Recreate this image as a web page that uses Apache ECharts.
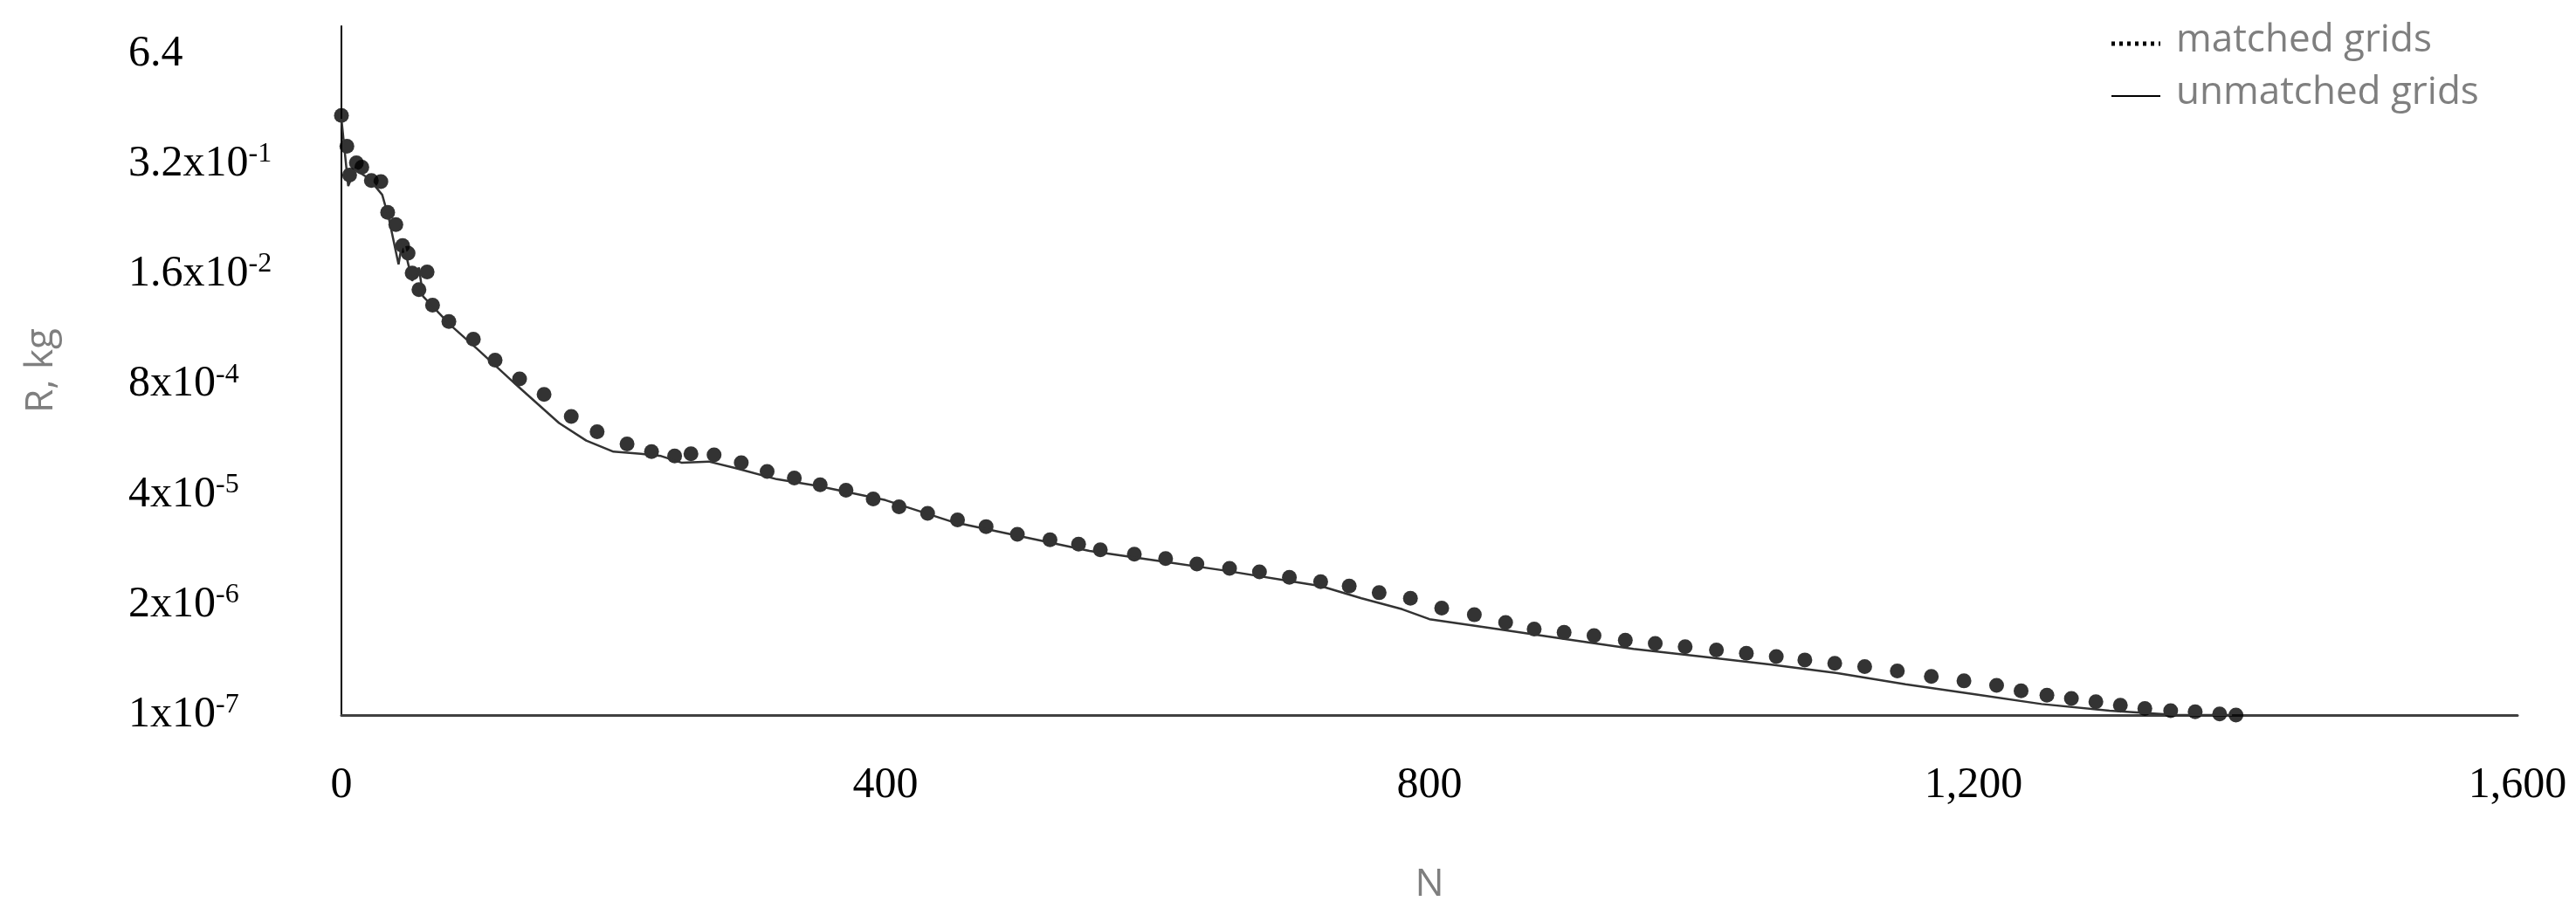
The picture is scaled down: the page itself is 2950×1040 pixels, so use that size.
<!DOCTYPE html>
<html>
<head>
<meta charset="utf-8">
<script src="https://cdn.jsdelivr.net/npm/echarts@6/dist/echarts.min.js"></script>
<style>html,body{margin:0;background:#fff}#chart{width:2950px;height:1040px}</style>
</head>
<body>
<div id="chart"></div>
<script>
// y values are read as steps on the axis: each step is a factor of 20 (0 = 1x10^-7, 6 = 6.4)
const yTickLabels = ["1x10{s|-7}","2x10{s|-6}","4x10{s|-5}","8x10{s|-4}","1.6x10{s|-2}","3.2x10{s|-1}","6.4"]

const matchedN = [0,4,6,11,15,22,29,34,40,45,49,52,57,63,67,79,97,113,131,149,169,188,210,228,245,257,274,294,313,333,352,371,391,410,431,453,474,497,521,542,558,583,606,629,653,675,697,720,741,763,786,809,833,856,877,899,921,944,966,988,1011,1033,1055,1076,1098,1120,1144,1169,1193,1217,1235,1254,1272,1290,1308,1326,1345,1363,1381,1393]
const matchedR = [5.44,5.16,4.90,5.01,4.97,4.85,4.84,4.56,4.45,4.26,4.19,4.01,3.86,4.02,3.72,3.57,3.41,3.22,3.05,2.91,2.71,2.57,2.46,2.39,2.35,2.37,2.36,2.29,2.21,2.15,2.09,2.04,1.96,1.89,1.83,1.77,1.71,1.64,1.59,1.55,1.50,1.46,1.42,1.37,1.33,1.30,1.25,1.21,1.17,1.11,1.06,0.97,0.91,0.84,0.78,0.75,0.72,0.68,0.65,0.62,0.59,0.56,0.53,0.50,0.47,0.44,0.40,0.35,0.31,0.27,0.22,0.18,0.15,0.12,0.09,0.06,0.04,0.03,0.01,0]

const unmatchedN = [0,5,10,20,30,35,42,45,52,57,60,80,100,130,160,180,200,220,235,250,270,290,320,350,400,450,500,550,600,650,700,720,750,780,800,850,900,950,1000,1050,1100,1150,1200,1250,1300,1350,1390]
const unmatchedR = [5.41,4.8,4.95,4.87,4.72,4.5,4.09,4.31,3.94,4.06,3.8,3.54,3.32,2.98,2.65,2.49,2.39,2.37,2.35,2.29,2.3,2.24,2.14,2.08,1.95,1.75,1.62,1.49,1.40,1.31,1.21,1.17,1.06,0.96,0.87,0.78,0.69,0.60,0.53,0.46,0.38,0.28,0.19,0.10,0.04,0,0]

const chart = echarts.init(document.getElementById("chart"))
const serif = "Liberation Serif"
const sans = "Open Sans"

chart.setOption({
	animation: false,
	grid: {left: 391, right: 67, top: 30, bottom: 218},
	xAxis: {
		type: "value", min: 0, max: 1600, interval: 400,
		name: "N", nameLocation: "middle", nameGap: 172,
		nameTextStyle: {fontFamily: sans, fontSize: 44, color: "#7f7f7f"},
		axisLine: {lineStyle: {color: "#404040", width: 3}},
		axisTick: {show: false},
		splitLine: {show: false},
		axisLabel: {fontFamily: serif, fontSize: 50, color: "#000", margin: 56}
	},
	yAxis: {
		type: "value", min: 0, max: 6.25, interval: 1,
		name: "R, kg", nameLocation: "middle", nameGap: 322,
		nameTextStyle: {fontFamily: sans, fontSize: 44, color: "#7f7f7f"},
		axisLine: {show: true, lineStyle: {color: "#000", width: 2}},
		axisTick: {show: false},
		splitLine: {show: false},
		axisLabel: {
			showMaxLabel: false,
			align: "left", margin: 244,
			fontFamily: serif, fontSize: 50, color: "#000",
			formatter: v => Number.isInteger(v) ? yTickLabels[v] : "",
			rich: {s: {fontFamily: serif, fontSize: 32, color: "#000", verticalAlign: "top", padding: [0,0,22,0]}}
		}
	},
	series: [
		{
			name: "unmatched grids", type: "line",
			data: unmatchedN.map((n,i) => [n, unmatchedR[i]]),
			showSymbol: false,
			lineStyle: {color: "#333", width: 2.5}
		},
		{
			name: "matched grids", type: "scatter",
			data: matchedN.map((n,i) => [n, matchedR[i]]),
			symbolSize: 17,
			itemStyle: {color: "#000"}
		}
	],
	graphic: [
		{type: "line", shape: {x1: 2418, y1: 50, x2: 2474, y2: 50}, style: {stroke: "#000", lineWidth: 5, lineDash: [4,5]}},
		{type: "text", left: 2492, top: 24, style: {text: "matched grids", fontFamily: sans, fontSize: 44, fill: "#7f7f7f"}},
		{type: "line", shape: {x1: 2418, y1: 110, x2: 2474, y2: 110}, style: {stroke: "#000", lineWidth: 2}},
		{type: "text", left: 2492, top: 84, style: {text: "unmatched grids", fontFamily: sans, fontSize: 44, fill: "#7f7f7f"}}
	]
})
</script>
</body>
</html>
